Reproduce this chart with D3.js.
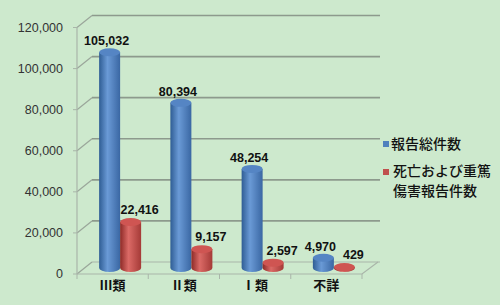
<!DOCTYPE html>
<html><head><meta charset="utf-8">
<script src="https://cdn.jsdelivr.net/npm/d3@7"></script>
<style>html,body{margin:0;padding:0;background:#cde9cd;}svg{display:block;}</style>
</head><body>
<svg id="c" width="500" height="305"></svg>
<script>
const categories = ["Ⅲ類", "Ⅱ類", "Ⅰ類", "不詳"];
const totalReports = [105032, 80394, 48254, 4970];
const seriousReports = [22416, 9157, 2597, 429];
const seriesNames = ["報告総件数", ["死亡および重篤", "傷害報告件数"]];
const yTicks = [0, 20000, 40000, 60000, 80000, 100000, 120000];

const svg = d3.select("#c");
svg.append("rect").attr("width", 500).attr("height", 305).attr("fill", "#cde9cd");

const depth = {dx: 15, dy: -12};
const yF = d3.scaleLinear().domain([0, 120000]).range([274, 27.5]);
const x = d3.scaleBand().domain(categories).range([77, 362]);
const fmt = d3.format(",");

const defs = svg.append("defs");
function grad(id, dark, mid, light) {
  const g = defs.append("linearGradient").attr("id", id).attr("x1", 0).attr("x2", 1).attr("y1", 0).attr("y2", 0);
  g.append("stop").attr("offset", "0%").attr("stop-color", dark);
  g.append("stop").attr("offset", "40%").attr("stop-color", light);
  g.append("stop").attr("offset", "100%").attr("stop-color", mid);
}
grad("gBlue", "#2f5d94", "#3a67a3", "#6a9ad6");
grad("gRed", "#8e2a27", "#a53a37", "#db6a66");

// back wall gridlines and side diagonals
const g0 = svg.append("g");
yTicks.forEach(t => {
  const yb = yF(t) + depth.dy;
  g0.append("line").attr("x1", 77 + depth.dx).attr("x2", 380).attr("y1", yb).attr("y2", yb)
    .attr("stroke", t === 0 ? "#a9b5a9" : "#8d9a8d").attr("stroke-width", t === 0 ? 1 : 1.6);
  g0.append("line").attr("x1", 77).attr("y1", yF(t)).attr("x2", 77 + depth.dx).attr("y2", yb)
    .attr("stroke", "#9aa69a").attr("stroke-width", 1.2);
});
// floor
g0.append("path").attr("d", `M77,274 L362,274 L378,262`).attr("fill", "none").attr("stroke", "#a9b5a9").attr("stroke-width", 1.2);
// front vertical axis
g0.append("line").attr("x1", 77).attr("x2", 77).attr("y1", yF(120000)).attr("y2", 274).attr("stroke", "#a9b5a9").attr("stroke-width", 1.2);
yTicks.forEach(t => {
  g0.append("line").attr("x1", 73).attr("x2", 77).attr("y1", yF(t)).attr("y2", yF(t)).attr("stroke", "#a9b5a9");
});
// category ticks
[...categories.map(c => x(c)), 362].forEach(v => {
  g0.append("line").attr("x1", v).attr("x2", v).attr("y1", 274).attr("y2", 279).attr("stroke", "#a9b5a9");
});

// y labels
svg.append("g").selectAll("text").data(yTicks).join("text")
  .attr("x", 63).attr("y", d => yF(d)).attr("dy", "0.35em").attr("text-anchor", "end")
  .attr("font-family", "Liberation Sans, Arial, sans-serif").attr("font-size", 12.5).attr("fill", "#333")
  .text(d => fmt(d));

// category labels
svg.append("g").selectAll("text").data(categories).join("text")
  .attr("x", d => x(d) + x.bandwidth() / 2).attr("y", 285).attr("dy", "0.35em").attr("text-anchor", "middle")
  .attr("font-family", "Noto Sans CJK JP").attr("font-size", 13).attr("font-weight", "bold").attr("fill", "#111")
  .text(d => d);

// cylinders
const rx = 10.5, ry = 4;
const yMid = v => yF(v) + depth.dy / 2;
function cyl(cx, v, fill, top) {
  const yt = yMid(v), yb = yMid(0);
  const g = svg.append("g");
  g.append("path").attr("d",
    `M${cx - rx},${yt} L${cx - rx},${yb} A${rx},${ry} 0 0 0 ${cx + rx},${yb} L${cx + rx},${yt} Z`)
    .attr("fill", fill);
  g.append("ellipse").attr("cx", cx).attr("cy", yt).attr("rx", rx).attr("ry", ry).attr("fill", top);
}
const labels = [];
categories.forEach((c, i) => {
  const center = x(c) + x.bandwidth() / 2 + depth.dx / 2;
  cyl(center - rx, totalReports[i], "url(#gBlue)", "#5585c4");
  cyl(center + rx, seriousReports[i], "url(#gRed)", "#cf5552");
  labels.push({x: center - rx - 3, y: yMid(totalReports[i]) - 7, t: fmt(totalReports[i])});
  labels.push({x: center + rx + 9, y: yMid(seriousReports[i]) - 8, t: fmt(seriousReports[i])});
});
svg.append("g").selectAll("text").data(labels).join("text")
  .attr("x", d => d.x).attr("y", d => d.y).attr("text-anchor", "middle")
  .attr("font-family", "Liberation Sans, Arial, sans-serif").attr("font-size", 12.5).attr("font-weight", "bold").attr("fill", "#111")
  .text(d => d.t);

// legend
const lg = svg.append("g").attr("font-family", "Noto Sans CJK JP").attr("font-size", 14).attr("font-weight", 500).attr("fill", "#111");
lg.append("rect").attr("x", 383).attr("y", 141).attr("width", 6).attr("height", 6).attr("fill", "#4f81bd");
lg.append("text").attr("x", 391).attr("y", 144).attr("dy", "0.35em").text(seriesNames[0]);
lg.append("rect").attr("x", 383).attr("y", 169).attr("width", 6).attr("height", 6).attr("fill", "#c0504d");
seriesNames[1].forEach((s, i) => {
  lg.append("text").attr("x", 393).attr("y", 171 + i * 20.5).attr("dy", "0.35em").text(s);
});
</script>
</body></html>
